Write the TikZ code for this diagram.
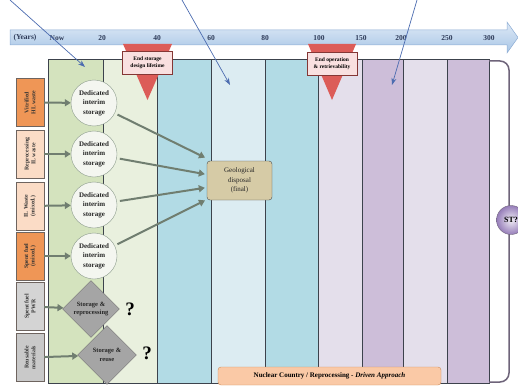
\documentclass[tikz,border=0pt]{standalone}
\usepackage{fontspec}
\setmainfont{Liberation Serif}
\usetikzlibrary{shapes.geometric,arrows.meta}

\definecolor{colgreen}{RGB}{212,227,190}
\definecolor{colpale}{RGB}{233,240,222}
\definecolor{colblue}{RGB}{178,219,229}
\definecolor{colsky}{RGB}{220,236,242}
\definecolor{collilac}{RGB}{228,223,235}
\definecolor{colmauve}{RGB}{205,190,217}
\definecolor{colline}{RGB}{60,66,76}
\definecolor{bartop}{RGB}{222,233,246}
\definecolor{barbot}{RGB}{168,198,230}
\definecolor{barline}{RGB}{140,172,212}
\definecolor{yeartext}{RGB}{45,58,88}
\definecolor{hlorange}{RGB}{239,150,86}
\definecolor{ilpeach}{RGB}{251,220,198}
\definecolor{fuelgrey}{RGB}{212,212,212}
\definecolor{boxline}{RGB}{110,100,95}
\definecolor{circfill}{RGB}{244,246,240}
\definecolor{circline}{RGB}{140,155,140}
\definecolor{flowgrey}{RGB}{112,126,112}
\definecolor{diafill}{RGB}{165,165,165}
\definecolor{geofill}{RGB}{214,203,166}
\definecolor{deadred}{RGB}{220,92,88}
\definecolor{deadpink}{RGB}{249,224,224}
\definecolor{pointblue}{RGB}{76,108,176}
\definecolor{bracketc}{RGB}{110,100,122}
\definecolor{stpurple}{RGB}{150,125,185}
\definecolor{bannerfill}{RGB}{250,201,166}
\definecolor{bannerline}{RGB}{205,140,90}

\tikzset{
  waste/.style={draw=boxline, rotate=90, minimum width=48pt, minimum height=28pt,
    inner sep=1pt, align=center, font=\fontsize{5.8}{6.6}\selectfont\bfseries, text=black!80},
  interim/.style={circle, draw=circline, fill=circfill, minimum size=46pt, inner sep=0pt,
    align=center, font=\fontsize{7}{9.5}\selectfont\bfseries, text=black!85},
  reuse/.style={diamond, aspect=1, draw=black!55, fill=diafill, minimum size=57pt, inner sep=0pt,
    align=center, font=\fontsize{6.5}{8.5}\selectfont\bfseries, text=black!85},
  flow/.style={->, line width=2pt, draw=flowgrey, >={Triangle[length=6pt,width=7pt]}},
  pointer/.style={->, draw=pointblue, line width=0.7pt, >={Stealth[length=7pt,width=5pt]}},
  deadline/.style={draw=deadred!60!black, fill=deadpink, minimum width=50pt, minimum height=23pt,
    inner sep=1pt, align=center, font=\fontsize{5.5}{7.5}\selectfont\bfseries},
  yearlbl/.style={font=\fontsize{7.5}{8}\selectfont\bfseries, text=yeartext, inner sep=0pt},
  banner/.style={draw=bannerline, fill=bannerfill, rounded corners=3pt, minimum width=223pt,
    minimum height=18pt, font=\fontsize{7}{8}\selectfont\bfseries},
  query/.style={font=\fontsize{19}{19}\selectfont\bfseries, inner sep=0pt}
}

\begin{document}
\begin{tikzpicture}[x=1pt, y=-1pt, node distance=51pt]
  \useasboundingbox (0,0) rectangle (518,385);

  \foreach \xa/\xb/\col in {48/103/colgreen, 103/157/colpale, 157/211/colblue, 211/265/colsky,
      265/318/colblue, 318/362/collilac, 362/403/colmauve, 403/447/collilac, 447/489/colmauve}
    \filldraw[fill=\col, draw=colline, line width=0.6pt] (\xa,59) rectangle (\xb,383);

  \shadedraw[top color=bartop, bottom color=barbot, draw=barline, line width=0.5pt]
    (10,30) -- (507,30) -- (507,22) -- (518,37.5) -- (507,53) -- (507,45) -- (10,45) -- cycle;
  \node[yearlbl] (years) at (25,37.5) {(Years)};
  \foreach \x/\yr in {57/Now, 102/20, 157/40, 211/60, 265/80, 319/100, 361/150, 401/200, 447/250, 489/300}
    \node[yearlbl] (yr\x) at (\x,38) {\yr};

  \fill[deadred] (123,44) -- (172,44) -- (147.5,100) -- cycle;
  \fill[deadred] (308,44) -- (356,44) -- (332,100) -- cycle;
  \node[deadline] (lifetime) at (147.5,62.5) {End storage\\design lifetime};
  \node[deadline] (retrieve) at (332,63.5) {End operation\\\& retrievability};

  \draw[bracketc, line width=1.5pt, rounded corners=9pt] (489,61) -| (509,382) -- (489,382);
  \node[circle, draw=bracketc, inner color=stpurple!15, outer color=stpurple, minimum size=29pt,
    inner sep=0pt, font=\fontsize{8}{8}\selectfont\bfseries] (st) at (511,220) {ST?};

  \node[waste, fill=hlorange] (w1) at (30,102.5) {Vitrified\\HL waste};
  \node[waste, fill=ilpeach] (w2) at (30,154) {Reprocessing\\IL waste};
  \node[waste, fill=ilpeach] (w3) at (30,206) {IL Waste\\(mixed.)};
  \node[waste, fill=hlorange] (w4) at (30,256) {Spent fuel\\(mixed.)};
  \node[waste, fill=fuelgrey] (w5) at (30,306.5) {Spent fuel\\PWR};
  \node[waste, fill=fuelgrey!95!black] (w6) at (30,357.5) {Reusable\\materials};

  \node[interim] (c1) at (94,103) {Dedicated\\interim\\storage};
  \node[interim, below of=c1] (c2) {Dedicated\\interim\\storage};
  \node[interim, below of=c2] (c3) {Dedicated\\interim\\storage};
  \node[interim, below of=c3] (c4) {Dedicated\\interim\\storage};
  \node[reuse] (d1) at (91,309) {Storage \&\\reprocessing};
  \node[reuse, minimum size=59pt] (d2) at (107,355) {Storage \&\\reuse};
  \node[query] (q1) at (130,309) {?};
  \node[query] (q2) at (147,353) {?};

  \node[draw=black!70, fill=geofill, rounded corners=3pt, minimum width=65pt, minimum height=39pt,
    align=center, font=\fontsize{7}{9.5}\selectfont, text=black!85] (geo) at (239.5,180.5)
    {Geological\\disposal\\(final)};

  \draw[flow] (w1) -- (c1);
  \draw[flow] (w2) -- (c2);
  \draw[flow] (w3) -- (c3);
  \draw[flow] (w4) -- (c4);
  \draw[flow] (w5) -- (d1);
  \draw[flow] (w6) -- (d2);
  \draw[flow, shorten <=3pt, shorten >=2pt] (c1) -- ([yshift=22pt]geo.west);
  \draw[flow, shorten <=3pt, shorten >=2pt] (c2) -- ([yshift=6pt]geo.west);
  \draw[flow, shorten <=3pt, shorten >=2pt] (c3) -- ([yshift=-7pt]geo.west);
  \draw[flow, shorten <=3pt, shorten >=2pt] (c4) -- ([yshift=-19pt]geo.west);

  \node[banner] (approach) at (329.5,376)
    {Nuclear Country / Reprocessing - \textit{Driven Approach}};

  \coordinate (p1) at (10,0);
  \coordinate (t1) at (85,67);
  \coordinate (p2) at (182,0);
  \coordinate (t2) at (230,85);
  \coordinate (p3) at (417,0);
  \coordinate (t3) at (392,85);
  \draw[pointer] (p1) -- (t1);
  \draw[pointer] (p2) -- (t2);
  \draw[pointer] (p3) -- (t3);
\end{tikzpicture}
\end{document}
